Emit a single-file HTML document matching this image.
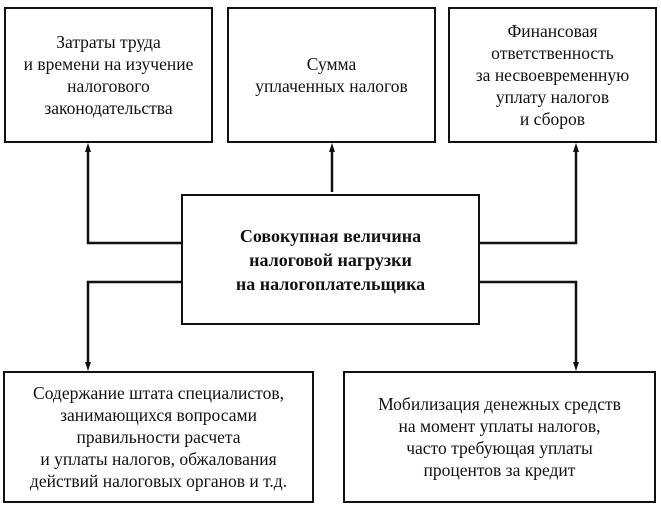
<!DOCTYPE html>
<html><head><meta charset="utf-8"><style>
body{margin:0;background:#fff;width:661px;height:515px;position:relative;overflow:hidden;font-family:"Liberation Serif","Noto Serif CJK SC",serif;color:#111}
.b{position:absolute;border:2.5px solid #111;box-sizing:border-box;display:flex;align-items:center;justify-content:center;text-align:center;font-size:17.5px;line-height:22px}
.c{font-weight:bold;font-size:18px;line-height:24px}
svg{position:absolute;left:0;top:0}
</style></head><body>
<svg width="661" height="515">
<g stroke="#111" stroke-width="2.5" fill="none">
<line x1="332" y1="192" x2="332" y2="150"/>
<polyline points="181,243 88,243 88,150"/>
<polyline points="480,243 576,243 576,150"/>
<polyline points="181,282 88,282 88,364"/>
<polyline points="480,282 576,282 576,364"/>
</g>
<g fill="#111">
<polygon points="332,143 329,152 335,152"/>
<polygon points="88,143 85,152 91,152"/>
<polygon points="576,143 573,152 579,152"/>
<polygon points="88,371 85,362 91,362"/>
<polygon points="576,371 573,362 579,362"/>
</g>
</svg>
<div class="b" style="left:4px;top:7px;width:209px;height:136px">Затраты труда<br>и времени на изучение<br>налогового<br>законодательства</div>
<div class="b" style="left:227px;top:7px;width:209px;height:136px">Сумма<br>уплаченных налогов</div>
<div class="b" style="left:448px;top:7px;width:209px;height:136px">Финансовая<br>ответственность<br>за несвоевременную<br>уплату налогов<br>и сборов</div>
<div class="b c" style="left:181px;top:194px;width:299px;height:131px">Совокупная величина<br>налоговой нагрузки<br>на налогоплательщика</div>
<div class="b" style="left:3px;top:371px;width:311px;height:132px">Содержание штата специалистов,<br>занимающихся вопросами<br>правильности расчета<br>и уплаты налогов, обжалования<br>действий налоговых органов и т.д.</div>
<div class="b" style="left:343px;top:371px;width:313px;height:132px">Мобилизация денежных средств<br>на момент уплаты налогов,<br>часто требующая уплаты<br>процентов за кредит</div>
</body></html>
